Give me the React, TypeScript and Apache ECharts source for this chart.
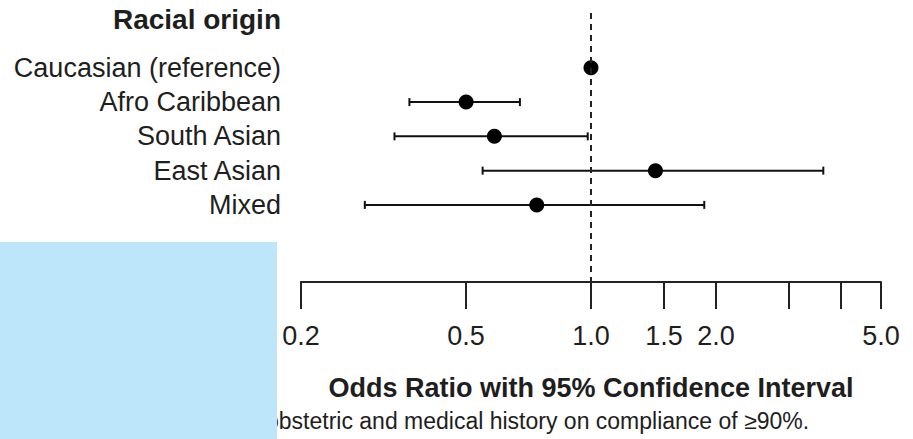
import React, { useEffect, useRef } from "react";
import * as echarts from "echarts";

// ---- data ----
const groupTitle = "Racial origin";
const categories = ["Caucasian (reference)", "Afro Caribbean", "South Asian", "East Asian", "Mixed"];
const oddsRatio = [1.0, 0.5, 0.585, 1.43, 0.74];
const lowerCI: (number | null)[] = [null, 0.365, 0.336, 0.548, 0.285];
const upperCI: (number | null)[] = [null, 0.674, 0.982, 3.63, 1.875];
const tickValues = [0.2, 0.5, 1.0, 1.5, 2.0, 3, 4, 5.0];
const tickLabelValues = [0.2, 0.5, 1.0, 1.5, 2.0, 5.0];
const referenceValue = 1.0;
const xAxisTitle = "Odds Ratio with 95% Confidence Interval";
const caption = "obstetric and medical history on compliance of \u226590%.";

const TEXT = "#1e1e1e";
const NARROW = '"Liberation Sans Narrow", "Arial Narrow", "Liberation Sans", sans-serif';
const SANS = '"Liberation Sans", Arial, sans-serif';

export default function App() {
  const ref = useRef<HTMLDivElement>(null);

  useEffect(() => {
    if (!ref.current) return;
    const chart = echarts.init(ref.current, undefined, { renderer: "svg" });

    const rowOf = (i: number) => i + 1;
    const titleRow = -0.4;

    const ciData = categories
      .map((_, i) => (lowerCI[i] != null && upperCI[i] != null ? [lowerCI[i], upperCI[i], rowOf(i)] : null))
      .filter((d) => d !== null);

    const pointData = categories.map((_, i) => [oddsRatio[i], rowOf(i)]);

    const option: any = {
      animation: false,
      backgroundColor: "#ffffff",
      grid: { left: 301, right: 32, top: 13, bottom: 157 },
      xAxis: {
        type: "log",
        logBase: 10,
        min: 0.2,
        max: 5,
        position: "bottom",
        axisLine: { show: true, onZero: false, lineStyle: { color: "#222", width: 2 } },
        axisTick: {
          show: true,
          inside: false,
          length: 27,
          customValues: tickValues,
          lineStyle: { color: "#222", width: 2 },
        },
        minorTick: { show: false },
        splitLine: { show: false },
        axisLabel: {
          customValues: tickLabelValues,
          formatter: (v: number) => Number(v).toFixed(1),
          fontSize: 27,
          fontFamily: NARROW,
          color: TEXT,
          margin: 40,
        },
        name: xAxisTitle,
        nameLocation: "middle",
        nameGap: 92,
        nameTextStyle: { fontSize: 27, fontWeight: "bold", fontFamily: SANS, color: TEXT },
      },
      yAxis: {
        type: "value",
        inverse: true,
        min: -0.6,
        max: 7.25,
        axisLine: { show: false },
        axisTick: { show: false },
        splitLine: { show: false },
        axisLabel: {
          customValues: [titleRow, ...categories.map((_, i) => rowOf(i))],
          margin: 20,
          fontSize: 27,
          fontFamily: SANS,
          color: TEXT,
          formatter: (v: number) => {
            if (Math.abs(v - titleRow) < 1e-6) return "{h|" + groupTitle + "}";
            const idx = Math.round(v) - 1;
            return categories[idx] ?? "";
          },
          rich: {
            h: { fontSize: 28, fontWeight: "bold", fontFamily: SANS, color: TEXT },
          },
        },
      },
      series: [
        {
          type: "custom",
          name: "CI",
          data: ciData,
          encode: { x: [0, 1], y: 2 },
          z: 3,
          renderItem: (params: any, api: any) => {
            const lo = api.coord([api.value(0), api.value(2)]);
            const hi = api.coord([api.value(1), api.value(2)]);
            const h = 4;
            const style = { stroke: "#111", lineWidth: 2 };
            return {
              type: "group",
              children: [
                { type: "line", shape: { x1: lo[0], y1: lo[1], x2: hi[0], y2: hi[1] }, style },
                { type: "line", shape: { x1: lo[0], y1: lo[1] - h, x2: lo[0], y2: lo[1] + h }, style },
                { type: "line", shape: { x1: hi[0], y1: hi[1] - h, x2: hi[0], y2: hi[1] + h }, style },
              ],
            };
          },
        },
        {
          type: "scatter",
          name: "OR",
          data: pointData,
          symbol: "circle",
          symbolSize: 15,
          itemStyle: { color: "#000", opacity: 1 },
          z: 4,
          markLine: {
            silent: true,
            symbol: ["none", "none"],
            label: { show: false },
            lineStyle: { color: "#222", width: 2, type: [6, 5] },
            data: [{ xAxis: referenceValue }],
          },
        },
      ],
      graphic: [
        {
          type: "text",
          left: 266,
          top: 409,
          z: 50,
          style: { text: caption, font: `23px ${NARROW}`, fill: TEXT },
        },
        {
          type: "rect",
          left: 0,
          top: 242,
          z: 100,
          shape: { width: 277, height: 197 },
          style: { fill: "#bde6fb" },
        },
      ],
    };

    chart.setOption(option);
    return () => chart.dispose();
  }, []);

  return (
    <div
      ref={ref}
      style={{ position: "absolute", left: 0, top: 0, width: 913, height: 439, background: "#fff" }}
    />
  );
}
